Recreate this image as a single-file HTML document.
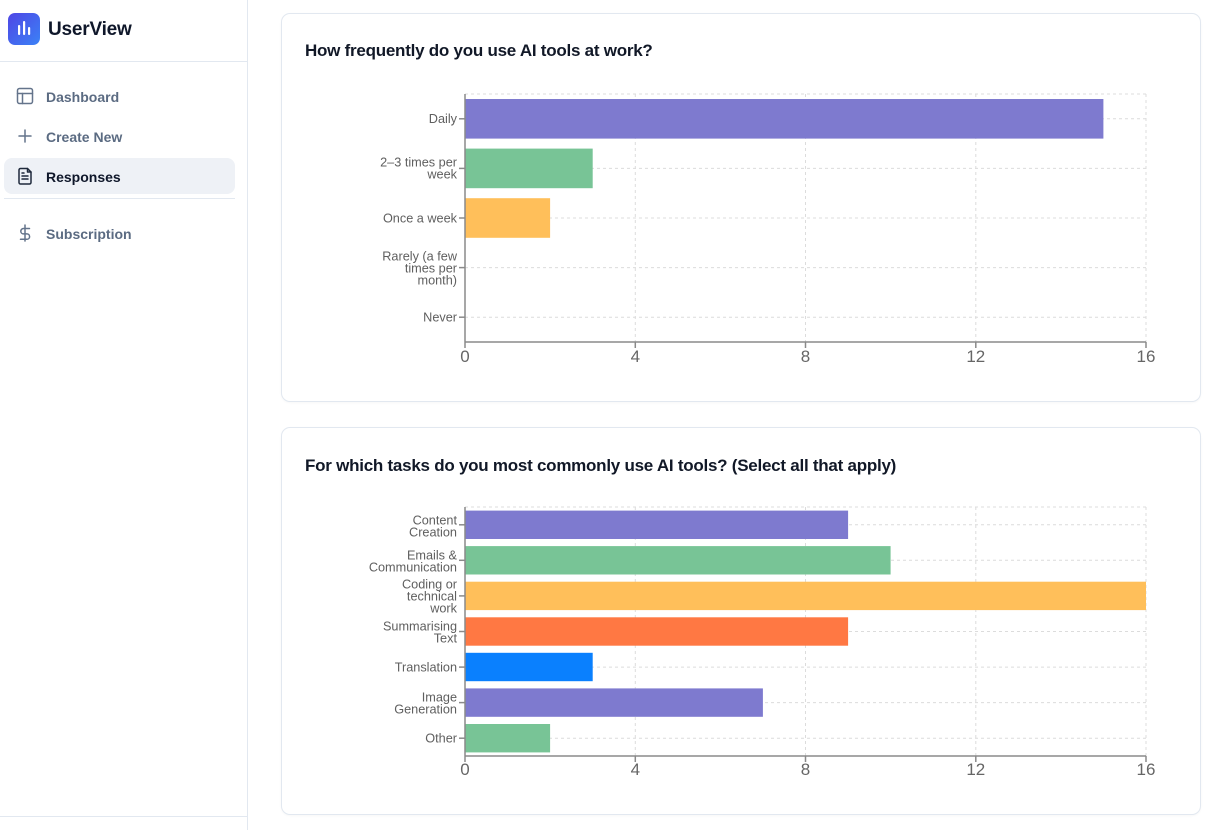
<!DOCTYPE html>
<html><head><meta charset="utf-8">
<style>
*{margin:0;padding:0;box-sizing:border-box}
html,body{width:1214px;height:830px;overflow:hidden;background:#fff;font-family:"Liberation Sans",Arial,sans-serif}
.sidebar{position:absolute;left:0;top:0;width:248px;height:830px;border-right:1px solid #e2e8f0;background:#fff}
.logo{position:absolute;left:8px;top:13px;width:32px;height:32px;border-radius:7px;background:linear-gradient(135deg,#4f46e5,#3b82f6)}
.brand{position:absolute;left:48px;top:19px;font-size:19px;font-weight:bold;color:#0f172a;letter-spacing:-0.2px}
.hr{position:absolute;height:1px;background:#e2e8f0}
.nav{position:absolute;left:46px;font-size:14px;color:#5b6b82;font-weight:bold;letter-spacing:0px}
.active{position:absolute;left:4px;top:158px;width:231px;height:36px;border-radius:8px;background:#eef1f6}
.card{position:absolute;left:281px;width:920px;border:1px solid #e2e8f0;border-radius:9px;background:#fff;box-shadow:0 1px 2px rgba(0,0,0,0.03)}
.title{position:absolute;left:305px;font-size:17px;font-weight:bold;color:#111827;letter-spacing:-0.25px}
svg.ov{position:absolute;left:0;top:0}
</style></head><body>
<div class="sidebar"></div>
<div class="logo"></div>
<div class="brand">UserView</div>
<div class="hr" style="left:0;top:61px;width:247px"></div>
<div class="active"></div>
<div class="nav" style="top:89px">Dashboard</div>
<div class="nav" style="top:129px">Create New</div>
<div class="nav" style="top:169px;color:#0f172a">Responses</div>
<div class="hr" style="left:4px;top:198px;width:231px"></div>
<div class="nav" style="top:226px">Subscription</div>
<div class="hr" style="left:0;top:816px;width:247px"></div>

<div class="card" style="top:13px;height:389px"></div>
<div class="card" style="top:427px;height:388px"></div>
<div class="title" style="top:41px">How frequently do you use AI tools at work?</div>
<div class="title" style="top:456px">For which tasks do you most commonly use AI tools? (Select all that apply)</div>

<svg class="ov" width="1214" height="830" viewBox="0 0 1214 830">
<g fill="#fff">
<rect x="18" y="25" width="2.2" height="10" rx="1"/>
<rect x="23" y="21" width="2.2" height="14" rx="1"/>
<rect x="28" y="27" width="2.2" height="8" rx="1"/>
</g>
<g fill="none" stroke="#64748b" stroke-width="1.5" stroke-linecap="round" stroke-linejoin="round">
<rect x="17.5" y="88.5" width="15" height="15" rx="2"/>
<line x1="17.5" y1="93.5" x2="32.5" y2="93.5"/>
<line x1="22.5" y1="93.5" x2="22.5" y2="103.5"/>
<line x1="25" y1="130" x2="25" y2="142"/>
<line x1="19" y1="136" x2="31" y2="136"/>
<path d="M27.5 168.5 H20.5 a1.5 1.5 0 0 0 -1.5 1.5 V182.5 a1.5 1.5 0 0 0 1.5 1.5 H29.5 a1.5 1.5 0 0 0 1.5 -1.5 V172 Z" stroke="#1e293b"/>
<path d="M27.5 168.5 V172 H31" stroke="#1e293b"/>
<line x1="22" y1="176" x2="28" y2="176" stroke="#1e293b"/>
<line x1="22" y1="179" x2="28" y2="179" stroke="#1e293b"/>
<line x1="22" y1="173" x2="24" y2="173" stroke="#1e293b"/>
<line x1="25" y1="225" x2="25" y2="241"/>
<path d="M29.5 228.5 h-6 a2.7 2.7 0 0 0 0 5.4 h3.4 a2.7 2.7 0 0 1 0 5.4 h-6.4"/>
</g>

<!-- CHART 1 -->
<g stroke="#dcdcdc" stroke-dasharray="3 3" stroke-width="1" fill="none">
<line x1="465" y1="94" x2="1146" y2="94"/>
<line x1="465" y1="118.8" x2="1146" y2="118.8"/>
<line x1="465" y1="168.4" x2="1146" y2="168.4"/>
<line x1="465" y1="218" x2="1146" y2="218"/>
<line x1="465" y1="267.6" x2="1146" y2="267.6"/>
<line x1="465" y1="317.2" x2="1146" y2="317.2"/>
<line x1="635.3" y1="94" x2="635.3" y2="342"/>
<line x1="805.5" y1="94" x2="805.5" y2="342"/>
<line x1="975.8" y1="94" x2="975.8" y2="342"/>
<line x1="1146" y1="94" x2="1146" y2="342"/>
</g>
<rect x="465" y="99" width="638.4" height="39.6" fill="#7e7acf"/>
<rect x="465" y="148.6" width="127.7" height="39.6" fill="#78c496"/>
<rect x="465" y="198.2" width="85.1" height="39.6" fill="#ffbf5a"/>
<g stroke="#8a8a8a" stroke-width="1.5">
<line x1="465" y1="94" x2="465" y2="342"/>
<line x1="465" y1="342" x2="1146" y2="342"/>
<line x1="459" y1="118.8" x2="465" y2="118.8"/>
<line x1="459" y1="168.4" x2="465" y2="168.4"/>
<line x1="459" y1="218" x2="465" y2="218"/>
<line x1="459" y1="267.6" x2="465" y2="267.6"/>
<line x1="459" y1="317.2" x2="465" y2="317.2"/>
<line x1="465" y1="342" x2="465" y2="348"/>
<line x1="635.3" y1="342" x2="635.3" y2="348"/>
<line x1="805.5" y1="342" x2="805.5" y2="348"/>
<line x1="975.8" y1="342" x2="975.8" y2="348"/>
<line x1="1146" y1="342" x2="1146" y2="348"/>
</g>
<g font-family="Liberation Sans, Arial, sans-serif" font-size="12.7" fill="#5f5f5f" text-anchor="end">
<text x="457" y="123">Daily</text>
<text x="457" y="166.3">2–3 times per</text>
<text x="457" y="178.3">week</text>
<text x="457" y="222.3">Once a week</text>
<text x="457" y="260.3">Rarely (a few</text>
<text x="457" y="272.3">times per</text>
<text x="457" y="284.3">month)</text>
<text x="457" y="321.5">Never</text>
</g>
<g font-family="Liberation Sans, Arial, sans-serif" font-size="17" fill="#666" text-anchor="middle">
<text x="465" y="362">0</text>
<text x="635.3" y="362">4</text>
<text x="805.5" y="362">8</text>
<text x="975.8" y="362">12</text>
<text x="1146" y="362">16</text>
</g>

<!-- CHART 2 -->
<g stroke="#dcdcdc" stroke-dasharray="3 3" stroke-width="1" fill="none">
<line x1="465" y1="507" x2="1146" y2="507"/>
<line x1="465" y1="524.8" x2="1146" y2="524.8"/>
<line x1="465" y1="560.3" x2="1146" y2="560.3"/>
<line x1="465" y1="595.9" x2="1146" y2="595.9"/>
<line x1="465" y1="631.5" x2="1146" y2="631.5"/>
<line x1="465" y1="667.1" x2="1146" y2="667.1"/>
<line x1="465" y1="702.6" x2="1146" y2="702.6"/>
<line x1="465" y1="738.2" x2="1146" y2="738.2"/>
<line x1="635.3" y1="507" x2="635.3" y2="756"/>
<line x1="805.5" y1="507" x2="805.5" y2="756"/>
<line x1="975.8" y1="507" x2="975.8" y2="756"/>
<line x1="1146" y1="507" x2="1146" y2="756"/>
</g>
<rect x="465" y="510.6" width="383.1" height="28.4" fill="#7e7acf"/>
<rect x="465" y="546.1" width="425.6" height="28.4" fill="#78c496"/>
<rect x="465" y="581.7" width="681" height="28.4" fill="#ffbf5a"/>
<rect x="465" y="617.3" width="383.1" height="28.4" fill="#ff7843"/>
<rect x="465" y="652.8" width="127.7" height="28.4" fill="#0a80fe"/>
<rect x="465" y="688.4" width="297.9" height="28.4" fill="#7e7acf"/>
<rect x="465" y="724" width="85.1" height="28.4" fill="#78c496"/>
<g stroke="#8a8a8a" stroke-width="1.5">
<line x1="465" y1="507" x2="465" y2="756"/>
<line x1="465" y1="756" x2="1146" y2="756"/>
<line x1="459" y1="524.8" x2="465" y2="524.8"/>
<line x1="459" y1="560.3" x2="465" y2="560.3"/>
<line x1="459" y1="595.9" x2="465" y2="595.9"/>
<line x1="459" y1="631.5" x2="465" y2="631.5"/>
<line x1="459" y1="667.1" x2="465" y2="667.1"/>
<line x1="459" y1="702.6" x2="465" y2="702.6"/>
<line x1="459" y1="738.2" x2="465" y2="738.2"/>
<line x1="465" y1="756" x2="465" y2="762"/>
<line x1="635.3" y1="756" x2="635.3" y2="762"/>
<line x1="805.5" y1="756" x2="805.5" y2="762"/>
<line x1="975.8" y1="756" x2="975.8" y2="762"/>
<line x1="1146" y1="756" x2="1146" y2="762"/>
</g>
<g font-family="Liberation Sans, Arial, sans-serif" font-size="12.7" fill="#5f5f5f" text-anchor="end">
<text x="457" y="524.3">Content</text>
<text x="457" y="536.3">Creation</text>
<text x="457" y="559.3">Emails &amp;</text>
<text x="457" y="571.3">Communication</text>
<text x="457" y="588.3">Coding or</text>
<text x="457" y="600.3">technical</text>
<text x="457" y="612.3">work</text>
<text x="457" y="630.3">Summarising</text>
<text x="457" y="642.3">Text</text>
<text x="457" y="671.4">Translation</text>
<text x="457" y="701.3">Image</text>
<text x="457" y="713.3">Generation</text>
<text x="457" y="742.5">Other</text>
</g>
<g font-family="Liberation Sans, Arial, sans-serif" font-size="17" fill="#666" text-anchor="middle">
<text x="465" y="775">0</text>
<text x="635.3" y="775">4</text>
<text x="805.5" y="775">8</text>
<text x="975.8" y="775">12</text>
<text x="1146" y="775">16</text>
</g>
</svg>
</body></html>
